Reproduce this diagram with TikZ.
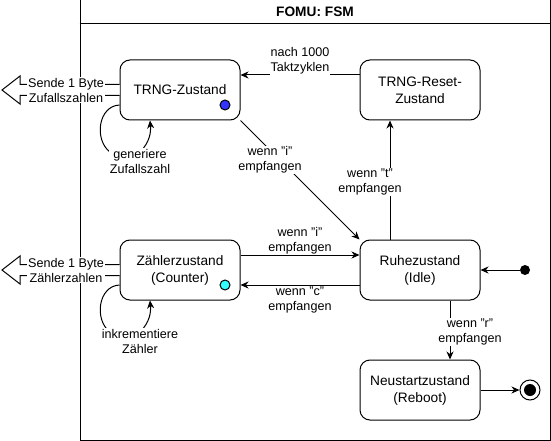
\documentclass[tikz,border=0pt]{standalone}
\usepackage{fontspec}
\setmainfont{Liberation Sans}
\usetikzlibrary{arrows.meta,calc}
\definecolor{dotblue}{HTML}{3333FF}
\definecolor{dotcyan}{HTML}{33FFFF}
\begin{document}
\begin{tikzpicture}[x=1pt,y=-1pt, line width=1pt,
  state/.style={draw, rounded corners=10pt, minimum width=120pt, minimum height=60pt, align=center, font=\fontsize{13.7}{17}\selectfont, inner sep=0pt},
  lbl/.style={fill=white, align=center, font=\fontsize{12.6}{15}\selectfont, inner sep=1pt},
  arr/.style={-{Stealth[length=8pt,width=7pt,inset=2.5pt]}},
  dotnode/.style={circle, draw, minimum size=10pt, inner sep=0pt},
  flex/.style={fill=white, line join=miter},
]
\useasboundingbox (0,0) rectangle (551,441);
% frame
\node[draw, minimum width=470pt, minimum height=440pt, inner sep=0pt] (frame) at (315,220) {};
\draw ($(frame.north west)+(0,24)$) -- ($(frame.north east)+(0,24)$);
\node[font=\bfseries\fontsize{13.7}{16}\selectfont] (title) at (315,12) {FOMU: FSM};

% states
\node[state] (trng) at (180,90) {TRNG-Zustand};
\node[state] (reset) at (420,90) {TRNG-Reset-\\Zustand};
\node[state] (zaehl) at (180,270) {Zählerzustand\\(Counter)};
\node[state] (ruhe) at (420,270) {Ruhezustand\\(Idle)};
\node[state] (neu) at (420,390) {Neustartzustand\\(Reboot)};

\node[dotnode, fill=dotblue] (bdot) at (225,105) {};
\node[dotnode, fill=dotcyan] (cdot) at (225,285) {};

\node[circle, fill=black, minimum size=10pt, inner sep=0pt] (init) at (525,270) {};
\node[circle, draw, minimum size=20pt, inner sep=0pt] (fin) at (530,390) {};
\node[circle, fill=black, minimum size=12pt, inner sep=0pt] (finin) at (fin) {};

% edges
\draw[arr] ([yshift=15pt]reset.west) -- ([yshift=15pt]trng.east);
\draw[arr] (trng.south east) -- (ruhe.north west);
\draw[arr] ([xshift=-30pt]ruhe.north) -- ([xshift=-30pt]reset.south);
\draw[arr] ([yshift=15pt]zaehl.east) -- ([yshift=15pt]ruhe.west);
\draw[arr] ([yshift=-15pt]ruhe.west) -- ([yshift=-15pt]zaehl.east);
\draw[arr] ([xshift=30pt]ruhe.south) -- ([xshift=30pt]neu.north);
\draw[arr] (init) -- (ruhe.east);
\draw[arr] (neu.east) -- (fin);

% self loops
\draw[arr] ($(trng.west)+(0,15)$) .. controls (98,106) and (94,140) .. (110,152) -- (140,152) .. controls (150,142) and (151,132) .. ([xshift=-30pt]trng.south);
\draw[arr] ($(zaehl.west)+(0,15)$) .. controls (98,286) and (94,320) .. (110,332) -- (140,332) .. controls (150,322) and (151,312) .. ([xshift=-30pt]zaehl.south);

% flex arrows
\draw[flex] ($(trng.west)+(0,-5.5)$) -- (20,84.5) -- (20,76) -- (2,90) -- (20,104) -- (20,95.5) -- ($(trng.west)+(0,5.5)$);
\draw[flex] ($(zaehl.west)+(0,-5.5)$) -- (20,264.5) -- (20,256) -- (2,270) -- (20,284) -- (20,275.5) -- ($(zaehl.west)+(0,5.5)$);

% labels
\node[lbl] (s1) at (66,90) {Sende 1 Byte\\Zufallszahlen};
\node[lbl] (s2) at (66,270) {Sende 1 Byte\\Zählerzahlen};
\node[lbl] (g1) at (140,161) {generiere\\Zufallszahl};
\node[lbl] (g2) at (140,341) {inkrementiere\\Zähler};
\node[lbl] (l1) at (300,61) {nach 1000\\Taktzyklen};
\node[lbl] (l2) at (270,160) {wenn "i"\\empfangen};
\node[lbl] (l3) at (370,182) {wenn "t"\\empfangen};
\node[lbl] (l4) at (300,241) {wenn "i"\\empfangen};
\node[lbl] (l5) at (300,300) {wenn "c"\\empfangen};
\node[lbl] (l6) at (470,332) {wenn "r"\\empfangen};
\end{tikzpicture}
\end{document}
